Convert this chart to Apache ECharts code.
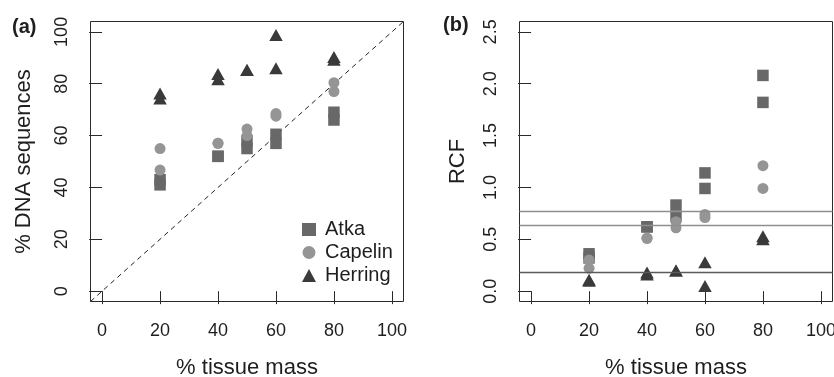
<!DOCTYPE html>
<html>
<head>
<meta charset="utf-8">
<script src="https://cdn.jsdelivr.net/npm/echarts@6/dist/echarts.min.js"></script>
<style>
  html, body { margin: 0; padding: 0; background: #fff; }
  #chart { width: 834px; height: 377px; }
</style>
</head>
<body>
<div id="chart"></div>
<script>
// Tissue-mass mixtures (two replicates per level)
const tissueMass = [20, 20, 40, 40, 50, 50, 60, 60, 80, 80];

// Panel (a): % of DNA sequences recovered per species
const atkaDNA    = [43, 41, 52, 52, 58, 55, 60.5, 57, 69, 66];
const capelinDNA = [55, 46.7, 57, 57, 62.5, 60, 68.5, 67.5, 80.4, 77];
const herringDNA = [75.5, 73.5, 83, 81, 84.5, 84.5, 98, 85.2, 89.5, 88.5];

// Panel (b): relative correction factors
const atkaRCF    = [0.36, 0.32, 0.62, 0.62, 0.83, 0.72, 1.14, 0.99, 2.08, 1.82];
const capelinRCF = [0.30, 0.22, 0.51, 0.51, 0.67, 0.61, 0.74, 0.71, 1.21, 0.99];
const herringRCF = [0.09, 0.08, 0.16, 0.14, 0.18, 0.18, 0.26, 0.03, 0.51, 0.48];

// Horizontal reference levels in panel (b)
const rcfLevels = [0.77, 0.64, 0.18];

// Tick labels
const massTicks = [0, 20, 40, 60, 80, 100];
const dnaTicks  = [0, 20, 40, 60, 80, 100];
const rcfTicks  = [0, 0.5, 1.0, 1.5, 2.0, 2.5];

const speciesNames = ['Atka', 'Capelin', 'Herring'];

// ---- styling ----
const FONT = '"Liberation Sans", Arial, Helvetica, sans-serif';
const INK = '#1e1e1e';
const colors = { Atka: '#686868', Capelin: '#959595', Herring: '#3a3a3a' };
const levelColors = ['#8e8e8e', '#8e8e8e', '#5a5a5a'];
const symbols = {
  Atka:    { symbol: 'rect', size: 11.5, offset: [0, 0] },
  Capelin: { symbol: 'circle', size: 11, offset: [0, 0] },
  Herring: { symbol: 'triangle', size: [13.5, 12], offset: [0, -2] }
};

const pad = (lo, hi) => { const r = hi - lo; return [lo - 0.04 * r, hi + 0.04 * r]; };
const massRange = pad(0, 100);
const dnaRange  = pad(0, 100);
const rcfRange  = pad(0, 2.5);

const pairs = (xs, ys) => xs.map((x, i) => [x, ys[i]]);

function valueAxis(gridIndex, range, ticks, opts) {
  return Object.assign({
    type: 'value',
    gridIndex: gridIndex,
    min: range[0],
    max: range[1],
    splitLine: { show: false },
    axisLine: { show: false },
    axisTick: { show: true, inside: false, length: 13, customValues: ticks,
                lineStyle: { color: '#2a2a2a', width: 1 } },
    axisLabel: { show: true, customValues: ticks, color: INK, fontSize: 18,
                 fontFamily: FONT },
    nameLocation: 'middle',
    nameTextStyle: { color: INK, fontSize: 22, fontFamily: FONT }
  }, opts);
}

function xAxisFor(gridIndex) {
  const ax = valueAxis(gridIndex, massRange, massTicks, {
    name: '% tissue mass', nameGap: 55
  });
  ax.axisLabel.margin = 20.5;
  return ax;
}

function yAxisFor(gridIndex, range, ticks, name, gap, fmt) {
  const ax = valueAxis(gridIndex, range, ticks, { name: name, nameGap: gap, nameRotate: 90 });
  ax.axisLabel.rotate = 90;
  ax.axisLabel.margin = 19;
  if (fmt) ax.axisLabel.formatter = fmt;
  return ax;
}

function speciesSeries(name, gridIndex, ys) {
  const s = symbols[name];
  return {
    name: name,
    type: 'scatter',
    xAxisIndex: gridIndex,
    yAxisIndex: gridIndex,
    symbol: s.symbol,
    symbolSize: s.size,
    symbolOffset: s.offset,
    itemStyle: { color: colors[name], opacity: 1 },
    emphasis: { disabled: true },
    data: pairs(tissueMass, ys)
  };
}

const series = [
  // 1:1 line in panel (a)
  {
    type: 'line',
    xAxisIndex: 0, yAxisIndex: 0,
    data: [[massRange[0], dnaRange[0]], [massRange[1], dnaRange[1]]],
    symbol: 'none',
    silent: true,
    lineStyle: { color: '#222', width: 1, type: [5, 4] },
    z: 1
  },
  speciesSeries('Atka', 0, atkaDNA),
  speciesSeries('Capelin', 0, capelinDNA),
  speciesSeries('Herring', 0, herringDNA),
  // reference levels in panel (b)
  {
    type: 'scatter',
    xAxisIndex: 1, yAxisIndex: 1,
    data: [],
    silent: true,
    markLine: {
      silent: true,
      symbol: ['none', 'none'],
      label: { show: false },
      data: rcfLevels.map((v, i) => ({
        yAxis: v,
        lineStyle: { color: levelColors[i], width: 1.3, type: 'solid' }
      }))
    },
    z: 1
  },
  speciesSeries('Atka', 1, atkaRCF),
  speciesSeries('Capelin', 1, capelinRCF),
  speciesSeries('Herring', 1, herringRCF)
];

const gridBase = {
  top: 21.5, width: 313, height: 280, show: true,
  borderColor: '#2a2a2a', borderWidth: 1, backgroundColor: 'transparent',
  containLabel: false, outerBoundsMode: 'none'
};

const chart = echarts.init(document.getElementById('chart'), null, { renderer: 'canvas' });
chart.setOption({
  animation: false,
  backgroundColor: '#fff',
  textStyle: { fontFamily: FONT },
  grid: [
    Object.assign({ left: 90.5 }, gridBase),
    Object.assign({ left: 519.5 }, gridBase)
  ],
  xAxis: [xAxisFor(0), xAxisFor(1)],
  yAxis: [
    yAxisFor(0, dnaRange, dnaTicks, '% DNA sequences', 56),
    yAxisFor(1, rcfRange, rcfTicks, 'RCF', 50.5, v => v.toFixed(1))
  ],
  legend: {
    data: speciesNames,
    orient: 'vertical',
    left: 297,
    top: 214.5,
    itemWidth: 14,
    itemHeight: 13,
    itemGap: 3,
    selectedMode: false,
    textStyle: { color: INK, fontSize: 20, fontFamily: FONT, padding: [0, 0, 0, 4] }
  },
  graphic: [
    { type: 'text', left: 12, top: 17,
      style: { text: '(a)', fill: INK, font: 'bold 20px ' + FONT } },
    { type: 'text', left: 443, top: 15,
      style: { text: '(b)', fill: INK, font: 'bold 20px ' + FONT } }
  ],
  series: series
});
</script>
</body>
</html>
